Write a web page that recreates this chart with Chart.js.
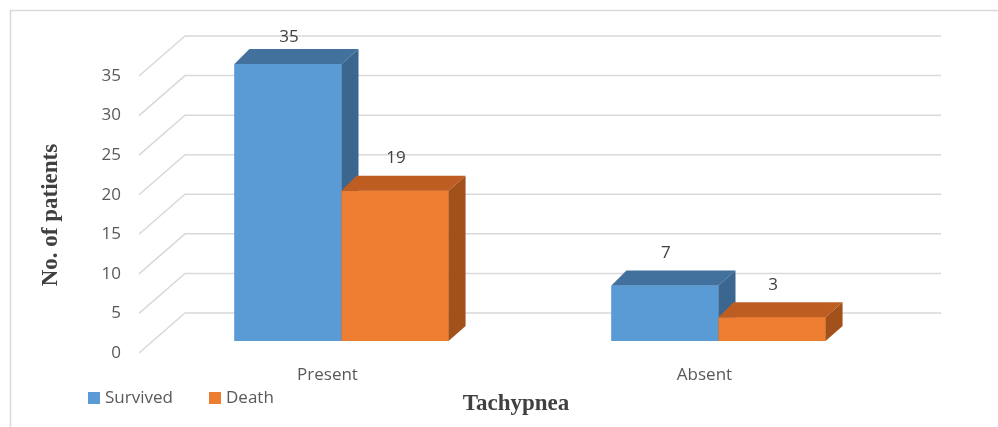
<!DOCTYPE html>
<html>
<head>
<meta charset="utf-8">
<script src="https://cdn.jsdelivr.net/npm/chart.js@4.4.1/dist/chart.umd.min.js"></script>
<style>
  html, body { margin: 0; padding: 0; background: #fff; }
  canvas { display: block; }
</style>
</head>
<body>
<canvas id="chart" width="998" height="427"></canvas>
<script>
const categories = ["Present", "Absent"];
const survived   = [35, 7];
const death      = [19, 3];
const yMin = 0, yMax = 35, yStep = 5;

const SERIES = [
  { label: "Survived", data: survived, front: "#5b9bd5", top: "#41719c", side: "#3a6690" },
  { label: "Death",    data: death,    front: "#ed7d31", top: "#be5d22", side: "#a3511b" },
];

const TXT = "#595959";
const GRID = "#d9d9d9";
const DEPTH_X = 17, DEPTH_Y = 15;

// Excel style 3D: back wall grid, bar tops/sides, value labels, legend, titles
const excel3d = {
  id: "excel3d",
  beforeDraw(chart) {
    const { ctx, width, height } = chart;
    ctx.save();
    ctx.fillStyle = "#fff";
    ctx.fillRect(0, 0, width, height);
    ctx.strokeStyle = GRID;
    ctx.lineWidth = 1.5;
    ctx.strokeRect(10.5, 10.5, width, height);
    ctx.restore();
  },
  beforeDatasetsDraw(chart) {
    const { ctx, chartArea } = chart;
    const y = chart.scales.y;
    ctx.save();
    ctx.strokeStyle = GRID;
    ctx.lineWidth = 1.5;
    y.ticks.forEach((t) => {
      const py = y.getPixelForValue(t.value);
      ctx.beginPath();
      ctx.moveTo(chartArea.left - 14, py + 12);
      ctx.lineTo(chartArea.left + 32, py - 28);
      ctx.lineTo(chartArea.right + 34, py - 28);
      ctx.stroke();
    });
    ctx.restore();
  },
  afterDatasetsDraw(chart) {
    const { ctx, chartArea } = chart;
    ctx.save();
    SERIES.forEach((s, i) => {
      chart.getDatasetMeta(i).data.forEach((el, j) => {
        const { x, y, base, width } = el.getProps(["x", "y", "base", "width"], true);
        const l = x - width / 2, r = x + width / 2;
        ctx.fillStyle = s.front;
        ctx.fillRect(l, y, width, base - y);
        ctx.fillStyle = s.top;
        ctx.beginPath();
        ctx.moveTo(l, y);
        ctx.lineTo(l + DEPTH_X - 2, y - DEPTH_Y);
        ctx.lineTo(r + DEPTH_X, y - DEPTH_Y);
        ctx.lineTo(r, y);
        ctx.closePath();
        ctx.fill();
        ctx.fillStyle = s.side;
        ctx.beginPath();
        ctx.moveTo(r, y);
        ctx.lineTo(r + DEPTH_X, y - DEPTH_Y);
        ctx.lineTo(r + DEPTH_X, base - DEPTH_Y);
        ctx.lineTo(r, base);
        ctx.closePath();
        ctx.fill();

        ctx.fillStyle = "#404040";
        ctx.font = "17px 'Open Sans', sans-serif";
        ctx.textAlign = "center";
        ctx.textBaseline = "middle";
        ctx.fillText(String(s.data[j]), x + 1, Math.max(y - 32, chartArea.top - 27));
      });
    });

    // legend
    ctx.font = "17px 'Open Sans', sans-serif";
    ctx.textAlign = "left";
    ctx.textBaseline = "middle";
    let lx = 88;
    SERIES.forEach((s) => {
      ctx.fillStyle = s.front;
      ctx.fillRect(lx, 392, 12, 12);
      ctx.fillStyle = TXT;
      ctx.fillText(s.label, lx + 17, 398);
      lx += 121;
    });

    // axis titles
    ctx.fillStyle = "#404040";
    ctx.font = "bold 23px 'Liberation Serif', 'Times New Roman', serif";
    ctx.textAlign = "center";
    ctx.fillText("Tachypnea", 516, 404);
    ctx.translate(51, 215);
    ctx.rotate(-Math.PI / 2);
    ctx.fillText("No. of patients", 0, 0);
    ctx.restore();
  },
};

Chart.defaults.font.family = "'Open Sans', sans-serif";
Chart.defaults.font.size = 17;
Chart.defaults.color = TXT;

new Chart(document.getElementById("chart"), {
  type: "bar",
  data: {
    labels: categories,
    datasets: SERIES.map((s) => ({
      label: s.label,
      data: s.data,
      backgroundColor: s.front,
      barPercentage: 1,
      categoryPercentage: 0.568,
    })),
  },
  options: {
    responsive: false,
    animation: false,
    layout: { padding: { left: 30, right: 91, top: 64, bottom: 0 } },
    plugins: { legend: { display: false }, tooltip: { enabled: false } },
    scales: {
      x: {
        grid: { display: false, drawTicks: false },
        border: { display: false },
        ticks: { labelOffset: -14, padding: 24, color: TXT },
        afterFit: (s) => { s.height = 86; },
      },
      y: {
        min: yMin,
        max: yMax,
        grid: { display: false, drawTicks: false },
        border: { display: false },
        ticks: { stepSize: yStep, padding: 32, labelOffset: 12, color: TXT },
        afterFit: (s) => { s.width = 123; },
      },
    },
  },
  plugins: [excel3d],
});
</script>
</body>
</html>
